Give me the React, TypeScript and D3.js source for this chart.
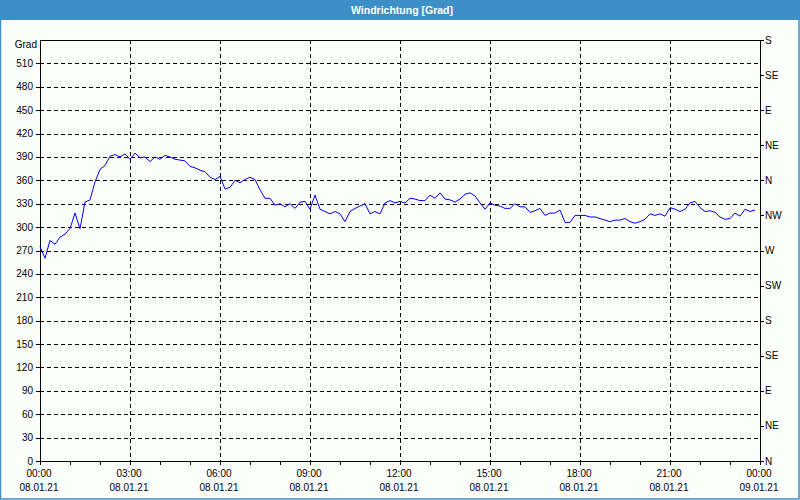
import React from "react";
import * as d3 from "d3";

const title = "Windrichtung [Grad]";
const yUnit = "Grad";
const startTime = new Date(2021, 0, 8, 0, 0);
const endTime = new Date(2021, 0, 9, 0, 0);
const stepMinutes = 10;
const leftTicks = [0, 30, 60, 90, 120, 150, 180, 210, 240, 270, 300, 330, 360, 390, 420, 450, 480, 510];
const compassLabels = ["N", "NE", "E", "SE", "S", "SW", "W", "NW", "N", "NE", "E", "SE", "S"];
const compassStep = 45;
const xTickHours = [0, 3, 6, 9, 12, 15, 18, 21, 24];

// wind direction, one value every 10 minutes from 08.01.21 00:00
const windDir = [
  275, 260, 283, 278, 287, 291, 298, 318, 298, 332, 335, 358, 374, 379, 391, 393, 390, 394,
  387, 395, 389, 390, 384, 390, 387, 392, 390, 387, 386, 385, 378, 376, 373, 371, 364, 361,
  365, 349, 351, 360, 357, 361, 364, 361, 348, 337, 337, 328, 330, 326, 330, 324, 332, 333,
  323, 341, 323, 320, 317, 320, 317, 307, 320, 324, 327, 330, 317, 320, 317, 331, 334, 331,
  333, 331, 337, 336, 334, 334, 341, 337, 344, 336, 335, 332, 336, 342, 344, 340, 331, 323,
  331, 328, 327, 324, 324, 330, 326, 326, 319, 321, 324, 315, 318, 318, 322, 306, 306, 315,
  315, 315, 313, 313, 311, 309, 307, 309, 309, 311, 307, 305, 307, 310, 317, 315, 317, 314,
  325, 323, 320, 323, 331, 333, 325, 320, 321, 319, 313, 310, 311, 318, 314, 323, 320, 322,
];

export default function App() {
  const W = 800, H = 500;
  const left = 40, right = 760, top = 40, bottom = 461;
  const font = "'Liberation Sans', Arial, sans-serif";
  const fs = 10;
  const x = d3.scaleTime().domain([startTime, endTime]).range([left, right]);
  const y = d3.scaleLinear().domain([0, 540]).range([bottom, top]);
  const data = windDir.map((v, i) => ({ t: new Date(startTime.getTime() + i * stepMinutes * 60000), v }));
  const line = d3.line<{ t: Date; v: number }>().x(d => x(d.t)).y(d => y(d.v));
  const hourTicks = d3.timeHour.range(startTime, new Date(endTime.getTime() + 1));
  const fmtTime = d3.timeFormat("%H:%M");
  const fmtDate = d3.timeFormat("%d.%m.%y");
  const majorDates = xTickHours.map(h => new Date(startTime.getTime() + h * 3600000));

  return (
    <div style={{ position: "fixed", left: 0, top: 0 }}>
      <svg width={W} height={H} style={{ display: "block" }}>
        <rect x={0} y={0} width={W} height={H} fill="#fcfefc" />
        <rect x={0} y={0} width={W} height={20} fill="#3d8fc7" />
        <rect x={0.5} y={0.5} width={W - 1.5} height={H - 1.5} fill="none" stroke="#3d8fc7" strokeWidth={1.5} />
        <text x={402} y={14} textAnchor="middle" fill="#ffffff" fontFamily={font} fontSize={10.5} fontWeight="bold">{title}</text>

        {leftTicks.filter(v => v > 0).map(v => (
          <line key={"hg" + v} x1={left} x2={right} y1={Math.round(y(v)) + 0.5} y2={Math.round(y(v)) + 0.5}
            stroke="#000" strokeDasharray="4,3" strokeWidth={1} />
        ))}
        {majorDates.slice(1, -1).map((d, i) => (
          <line key={"vg" + i} x1={Math.round(x(d)) + 0.5} x2={Math.round(x(d)) + 0.5} y1={top} y2={bottom}
            stroke="#000" strokeDasharray="4,3" strokeWidth={1} />
        ))}

        <rect x={left + 0.5} y={top + 0.5} width={right - left} height={bottom - top} fill="none" stroke="#000" strokeWidth={1} />

        {leftTicks.map(v => (
          <g key={"lt" + v}>
            <line x1={left - 4} x2={left} y1={Math.round(y(v)) + 0.5} y2={Math.round(y(v)) + 0.5} stroke="#000" />
            <text x={33} y={y(v) + 3.5} textAnchor="end" fontFamily={font} fontSize={fs} fill="#000">{v}</text>
          </g>
        ))}
        <text x={37} y={48} textAnchor="end" fontFamily={font} fontSize={fs} fill="#000">{yUnit}</text>

        {compassLabels.map((lab, i) => (
          <g key={"rt" + i}>
            <line x1={right} x2={right + 4} y1={Math.round(y(i * compassStep)) + 0.5} y2={Math.round(y(i * compassStep)) + 0.5} stroke="#000" />
            <text x={right + 5} y={y(i * compassStep) + 3.5} fontFamily={font} fontSize={fs} fill="#000">{lab}</text>
          </g>
        ))}

        {hourTicks.map((d, i) => (
          <line key={"bt" + i} x1={Math.round(x(d)) + 0.5} x2={Math.round(x(d)) + 0.5} y1={bottom} y2={bottom + 4} stroke="#000" />
        ))}
        {majorDates.map((d, i) => (
          <g key={"bl" + i}>
            <text x={x(d) - 1} y={477} textAnchor="middle" fontFamily={font} fontSize={fs} fill="#000">{fmtTime(d)}</text>
            <text x={x(d) - 1} y={491} textAnchor="middle" fontFamily={font} fontSize={fs} fill="#000">{fmtDate(d)}</text>
          </g>
        ))}

        <path d={line(data) || ""} fill="none" stroke="#0000ff" strokeWidth={1} />
      </svg>
    </div>
  );
}
